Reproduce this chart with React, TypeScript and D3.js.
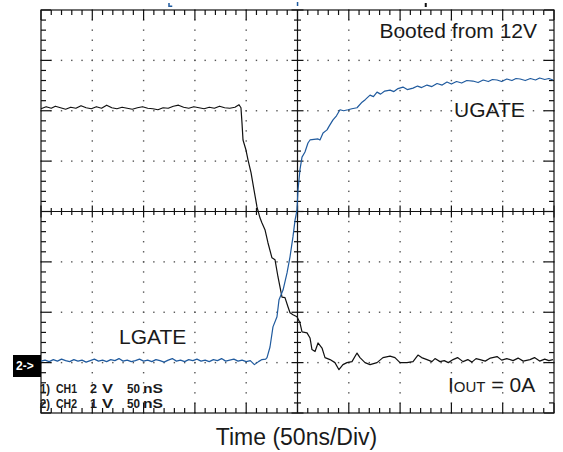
import React from 'react';
import * as d3 from 'd3';

// time in ns (50 ns/div), level in divisions from screen centre
const lgate: [number, number][] = [
  [-250, 2.04], [-245, 2.08], [-240, 2.05], [-236, 2.09], [-231, 2.06], [-226, 2.03], [-221, 2.07],
  [-216, 2.05], [-211, 2.10], [-206, 2.06], [-201, 2.04], [-196, 2.08], [-191, 2.05], [-186, 2.11],
  [-181, 2.06], [-176, 2.04], [-171, 2.07], [-166, 2.05], [-161, 2.03], [-156, 2.06], [-151, 2.08],
  [-146, 2.05], [-141, 2.04], [-136, 2.02], [-131, 2.06], [-126, 2.05], [-121, 2.09], [-116, 2.11],
  [-111, 2.07], [-106, 2.05], [-101, 2.08], [-96, 2.06], [-91, 2.04], [-86, 2.07], [-81, 2.05],
  [-76, 2.09], [-71, 2.06], [-66, 2.05], [-61, 2.07], [-57, 2.12],
  [-55.1, 2.06], [-54.1, 1.76], [-53.1, 1.42], [-50.2, 1.22], [-48.2, 1.02], [-45.3, 0.77],
  [-42.4, 0.43], [-39.5, 0.09], [-36.5, -0.13], [-34.6, -0.23], [-31.7, -0.36], [-28.8, -0.62],
  [-24.9, -0.92], [-21.9, -0.96], [-19.0, -1.30], [-15.1, -1.70], [-12.2, -1.71], [-9.3, -1.89],
  [-7.3, -2.01], [-4.4, -2.05], [-0.5, -2.09], [2.4, -2.21], [4.4, -2.39], [9.3, -2.41],
  [12.2, -2.51], [14.1, -2.74], [17.1, -2.78], [20.0, -2.61], [23.9, -2.71], [26.8, -2.90],
  [31.7, -2.94], [36.5, -3.00], [40.4, -3.14], [44.3, -3.04], [48.2, -3.00], [53.1, -2.98],
  [58.0, -2.81], [60.9, -2.90], [65.8, -3.00], [70.7, -3.04], [77.5, -3.00], [83.3, -2.90],
  [90.2, -2.87], [95.0, -2.90], [99.9, -3.00], [106.7, -3.00], [112.6, -2.98], [117.4, -2.85],
  [121, -2.90], [126.2, -2.94], [131, -2.98], [134, -2.92], [138.9, -2.98], [143, -2.96],
  [147, -3.00], [151.6, -2.94], [156, -2.90], [161.3, -2.98], [166, -2.94], [170, -2.99],
  [174, -2.92], [177.9, -2.94], [183, -2.97], [188, -2.91], [194.5, -2.88], [199, -2.95],
  [204, -2.92], [210.1, -2.96], [215, -2.91], [220, -2.97], [226.6, -2.94], [231, -2.90],
  [236, -2.97], [241, -2.93], [245, -2.96], [249, -2.94],
];

const ugate: [number, number][] = [
  [-250, -2.97], [-246, -2.95], [-242, -2.98], [-238, -2.94], [-234, -2.97], [-230, -2.93],
  [-226, -2.96], [-222, -2.98], [-218, -2.94], [-214, -2.97], [-210, -2.95], [-206, -2.99],
  [-202, -2.96], [-198, -2.93], [-194, -2.97], [-190, -2.95], [-186, -2.98], [-182, -2.94],
  [-178, -2.96], [-174, -2.92], [-170, -2.97], [-166, -2.95], [-162, -2.98], [-158, -2.96],
  [-154, -2.93], [-150, -2.97], [-146, -2.95], [-142, -2.98], [-138, -2.94], [-134, -2.96],
  [-130, -2.99], [-126, -2.95], [-122, -2.92], [-118, -2.97], [-114, -2.95], [-110, -2.98],
  [-106, -2.94], [-102, -2.96], [-98, -2.93], [-94, -2.97], [-90, -2.95], [-86, -2.98],
  [-82, -2.94], [-78, -2.96], [-74, -2.92], [-70, -2.97], [-66, -2.95], [-62, -2.93],
  [-58, -2.97], [-54, -2.95], [-50, -2.98], [-46, -2.96], [-42, -3.04], [-38, -2.98],
  [-34.6, -2.94], [-31, -2.93], [-29.7, -2.90],
  [-26.8, -2.69], [-23.9, -2.29], [-20, -2.09], [-18, -1.75], [-14.1, -1.56], [-10.2, -1.22],
  [-7.3, -0.90], [-4.4, -0.50], [-2.4, -0.17], [-0.5, 0.03], [0.5, 0.43], [2.4, 0.83],
  [4.4, 1.08], [7.3, 1.18], [10.2, 1.36], [12.2, 1.42], [16, 1.43], [20, 1.44], [21.9, 1.42],
  [24.9, 1.56], [28.8, 1.62], [31, 1.70], [34.6, 1.82], [38, 1.90], [41.4, 2.02], [45, 2.00],
  [49.2, 2.02], [53, 2.04], [58, 2.06], [62.9, 2.17], [66, 2.22], [70.7, 2.31], [74, 2.28],
  [77.5, 2.37], [81, 2.33], [85, 2.39], [90.2, 2.41], [94, 2.38], [98, 2.44], [102.8, 2.47],
  [107, 2.42], [112.6, 2.45], [117, 2.49], [121, 2.46], [126.2, 2.51], [131, 2.48], [136, 2.54],
  [141, 2.51], [145.7, 2.57], [150, 2.53], [155, 2.58], [160, 2.55], [165, 2.60], [171, 2.59],
  [176, 2.56], [181, 2.61], [186, 2.58], [190, 2.62], [194.5, 2.61], [199, 2.58], [204, 2.63],
  [209, 2.60], [213, 2.64], [217, 2.63], [222, 2.60], [227, 2.64], [232, 2.61], [236, 2.65],
  [241, 2.62], [245, 2.64], [249, 2.61],
];

const xMajor = d3.range(-250, 251, 50);
const xMinor = d3.range(-250, 251, 10);
const yMajor = d3.range(-4, 4.001, 1);
const yMinor = d3.range(-4, 4.001, 0.2).map(v => +v.toFixed(1));

const chLine1 = ['1)', 'CH1', '2', 'V', '50', 'nS'];
const chLine2 = ['2)', 'CH2', '1', 'V', '50', 'nS'];

const W = 563, H = 452;
const margin = { top: 10, right: 9, bottom: 39, left: 41 };
const font = 'Liberation Sans, Arial, Helvetica, sans-serif';
const ink = '#1a1a1a';

export default function App() {
  const x = d3.scaleLinear().domain([-250, 250]).range([margin.left, W - margin.right]);
  const y = d3.scaleLinear().domain([-4, 4]).range([H - margin.bottom, margin.top]);
  const line = d3.line<[number, number]>().x(d => x(d[0])).y(d => y(d[1]));

  const x0 = x(-250), x1 = x(250), y0 = y(4), y1 = y(-4);
  const isMajorX = (t: number) => Math.abs(t % 50) < 1e-6;
  const isMajorY = (v: number) => Math.abs(v - Math.round(v)) < 1e-6;

  const dots: JSX.Element[] = [];
  xMajor.filter(t => t !== -250 && t !== 250 && t !== 0).forEach(t =>
    yMinor.forEach(v => dots.push(<rect key={`v${t}_${v}`} x={x(t) - 0.7} y={y(v) - 0.7} width={1.4} height={1.4} fill="#555" />)));
  yMajor.filter(v => v !== -4 && v !== 4 && v !== 0).forEach(v =>
    xMinor.forEach(t => dots.push(<rect key={`h${t}_${v}`} x={x(t) - 0.7} y={y(v) - 0.7} width={1.4} height={1.4} fill="#555" />)));

  const ticks: JSX.Element[] = [];
  xMinor.forEach(t => {
    const len = isMajorX(t) ? 10 : 5;
    ticks.push(<line key={`tt${t}`} x1={x(t)} x2={x(t)} y1={y0} y2={y0 + len} />);
    ticks.push(<line key={`tb${t}`} x1={x(t)} x2={x(t)} y1={y1} y2={y1 - len} />);
    const c = isMajorX(t) ? 6 : 3.5;
    ticks.push(<line key={`tc${t}`} x1={x(t)} x2={x(t)} y1={y(0) - c} y2={y(0) + c} />);
  });
  yMinor.forEach(v => {
    const len = isMajorY(v) ? 10 : 5;
    ticks.push(<line key={`tl${v}`} x1={x0} x2={x0 + len} y1={y(v)} y2={y(v)} />);
    ticks.push(<line key={`tr${v}`} x1={x1} x2={x1 - len} y1={y(v)} y2={y(v)} />);
    const c = isMajorY(v) ? 6 : 3.5;
    ticks.push(<line key={`tm${v}`} x1={x(0) - c} x2={x(0) + c} y1={y(v)} y2={y(v)} />);
  });

  const chX = [40, 56, 90, 102, 127, 143];
  const chW = [10, 21, 7, 11, 13, 20];

  return (
    <svg width={W} height={H} style={{ position: 'absolute', left: 0, top: 0, background: '#fff' }}>
      {/* screen markers above the graticule */}
      <rect x={x(-125) - 1} y={3} width={1.5} height={4} fill="#1f5a9e" />
      <rect x={x(-125)} y={5.5} width={3} height={1.5} fill="#1f5a9e" />
      <rect x={x(0) - 0.7} y={2} width={1.5} height={4} fill="#1f5a9e" />
      <rect x={x(125) - 1} y={3} width={2} height={4} fill="#111" />

      {dots}
      <g stroke="#111" strokeWidth={1.2}>
        <rect x={x0} y={y0} width={x1 - x0} height={y1 - y0} fill="none" />
        <line x1={x0} x2={x1} y1={y(0)} y2={y(0)} />
        <line x1={x(0)} x2={x(0)} y1={y0} y2={y1} />
        {ticks}
      </g>

      <path d={line(lgate) ?? ''} fill="none" stroke="#111" strokeWidth={1.2} strokeLinejoin="round" />
      <path d={line(ugate) ?? ''} fill="none" stroke="#1f5a9e" strokeWidth={1.2} strokeLinejoin="round" />

      <g fontFamily={font} fill={ink} fontSize={21}>
        <text x={537} y={38} textAnchor="end">Booted from 12V</text>
        <text x={454} y={117}>UGATE</text>
        <text x={119} y={344}>LGATE</text>
        <text x={448} y={392}>I<tspan fontSize={15}>OUT</tspan> = 0A</text>
        <text x={296.5} y={445} fontSize={23} textAnchor="middle">Time (50ns/Div)</text>
      </g>

      <g fontFamily={font} fill={ink} fontSize={13} fontWeight="bold">
        {chLine1.map((s, i) => (
          <text key={`a${i}`} x={chX[i]} y={393} textLength={chW[i]} lengthAdjust="spacingAndGlyphs">{s}</text>
        ))}
        {chLine2.map((s, i) => (
          <text key={`b${i}`} x={chX[i]} y={408} textLength={chW[i]} lengthAdjust="spacingAndGlyphs">{s}</text>
        ))}
      </g>

      <rect x={13} y={355} width={28} height={22} fill="#000" />
      <text x={16} y={370} fill="#fff" fontFamily={font} fontWeight="bold" fontSize={12}>2-&gt;</text>
    </svg>
  );
}
